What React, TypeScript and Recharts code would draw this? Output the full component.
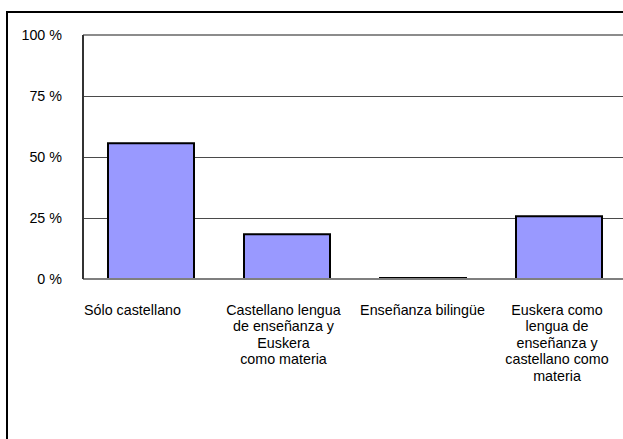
import { BarChart, Bar, XAxis, YAxis, CartesianGrid, ReferenceLine } from "recharts";

const categories = [
  "Sólo castellano",
  "Castellano lengua\nde enseñanza y\nEuskera\ncomo materia",
  "Enseñanza bilingüe",
  "Euskera como\nlengua de\nenseñanza y\ncastellano como\nmateria",
];
const shares = [55.6, 18.3, 0.4, 25.7];
const yTicks = [0, 25, 50, 75, 100];

const data = categories.map((name, i) => ({ name, value: shares[i] }));

const FONT = "'Liberation Sans', Arial, sans-serif";

const CategoryTick = (props: any) => {
  const { x, y, payload, index } = props;
  const lines = String(payload.value).split("\n");
  // first label sits left of its bar in the original
  const shift = index === 0 ? -18.5 : index === 1 ? -3.5 : index === 2 ? -0.5 : -2;
  return (
    <text
      x={x + shift}
      y={y + 36}
      textAnchor="middle"
      fill="#000"
      fontSize={14.3}
      fontFamily={FONT}
    >
      {lines.map((line, i) => (
        <tspan key={i} x={x + shift} dy={i === 0 ? 0 : 16.4}>
          {line}
        </tspan>
      ))}
    </text>
  );
};

export default function App() {
  return (
    <div
      style={{
        position: "absolute",
        left: 0,
        top: 0,
        width: 623,
        height: 439,
        overflow: "hidden",
        background: "#fff",
      }}
    >
      <div
        style={{
          position: "absolute",
          left: 6,
          top: 11,
          width: 700,
          height: 500,
          border: "2px solid #000",
        }}
      />
      <div style={{ position: "absolute", left: 0, top: 0 }}>
        <BarChart
          width={700}
          height={460}
          data={data}
          margin={{ top: 35, right: 73, bottom: 0, left: 0 }}
        >
          <CartesianGrid vertical={false} stroke="#4a4a4a" shapeRendering="crispEdges" />
          <XAxis
            dataKey="name"
            interval={0}
            height={181}
            tickLine={false}
            tickSize={0}
            tickMargin={0}
            axisLine={{ stroke: "#7f7f7f", strokeWidth: 2 }}
            tick={<CategoryTick />}
          />
          <YAxis
            width={83}
            domain={[0, 100]}
            ticks={yTicks}
            tickFormatter={(v) => `${v} %`}
            tickLine={false}
            tickSize={0}
            tickMargin={21}
            axisLine={{ stroke: "#333", strokeWidth: 2 }}
            tick={{ fill: "#000", fontSize: 14.3, fontFamily: FONT }}
          />
          <ReferenceLine y={100} stroke="#8c8c8c" strokeWidth={2} />
          <Bar
            dataKey="value"
            fill="#9999FF"
            stroke="#000"
            strokeWidth={2}
            barSize={86}
            isAnimationActive={false}
          />
        </BarChart>
      </div>
    </div>
  );
}
